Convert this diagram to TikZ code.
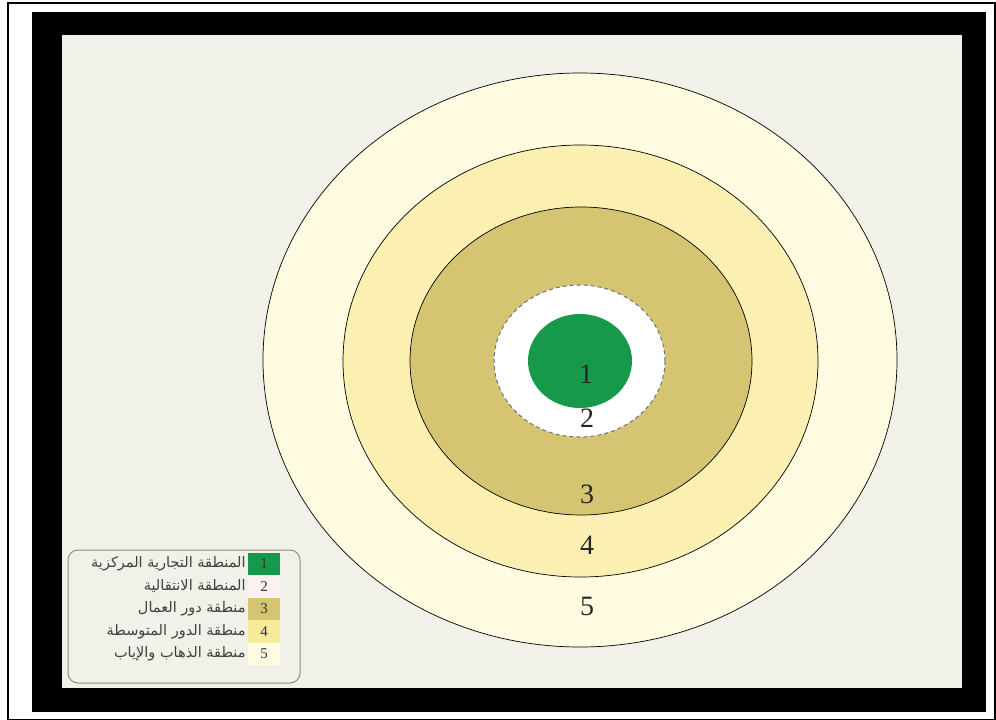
\documentclass[tikz,border=0pt]{standalone}
\usepackage{fontspec}
\setmainfont{Liberation Serif}
\newfontfamily\arabicfont[Script=Arabic]{DejaVu Sans}
\TeXXeTstate=1
\definecolor{bgpaper}{HTML}{F1F1E9}
\definecolor{zonefive}{HTML}{FEFBE0}
\definecolor{zonefour}{HTML}{FBF0B2}
\definecolor{zonethree}{HTML}{D5C572}
\definecolor{zonetwo}{HTML}{FFFFFF}
\definecolor{zoneone}{HTML}{16994A}
\definecolor{legendtwo}{HTML}{FBF1F1}
\definecolor{legendfour}{HTML}{F7EA98}
\tikzset{
  ring/.style={draw=black, line width=0.7pt},
  zonenum/.style={font=\fontsize{28}{30}\selectfont, text=black!85, inner sep=0pt},
  legtext/.style={font=\arabicfont\fontsize{14.5}{15}\selectfont, anchor=east, inner sep=0pt, text=black!75},
  legsq/.style={minimum width=32pt, minimum height=22.5pt, inner sep=0pt, font=\fontsize{15}{15}\selectfont, text=black!80},
}
\begin{document}
\begin{tikzpicture}[x=1pt,y=-1pt]
\useasboundingbox (0,0) rectangle (996,720);
\fill[white] (0,0) rectangle (996,720);
\draw[black, line width=1.5pt] (8,3) rectangle (995,719.5);
% thick frame
\fill[black] (32,12) rectangle (986,712);
\fill[bgpaper] (62,35) rectangle (962,688);
% rings
\filldraw[ring, fill=zonefive] (580,360) ellipse [x radius=317, y radius=287];
\filldraw[ring, fill=zonefour] (580.5,361) ellipse [x radius=237.5, y radius=216];
\filldraw[ring, fill=zonethree] (581,361) ellipse [x radius=171, y radius=154];
\filldraw[draw=black!55, line width=1pt, dash pattern=on 4pt off 3pt, fill=zonetwo] (579.5,361) ellipse [x radius=85.5, y radius=76];
\fill[zoneone] (580,361) ellipse [x radius=52, y radius=47];
% numbers
\node[zonenum] (n1) at (586,374) {1};
\node[zonenum] (n2) at (587,418) {2};
\node[zonenum] (n3) at (587,494) {3};
\node[zonenum] (n4) at (587,545) {4};
\node[zonenum] (n5) at (587,606) {5};
% legend
\draw[black!45, line width=1pt, rounded corners=10pt, fill=bgpaper] (68,550) rectangle (300,683);
\node[legsq, fill=zoneone] (s1) at (264,564) {1};
\node[legsq, fill=legendtwo] (s2) at (264,586.5) {2};
\node[legsq, fill=zonethree] (s3) at (264,609) {3};
\node[legsq, fill=legendfour] (s4) at (264,631.5) {4};
\node[legsq, fill=zonefive] (s5) at (264,654) {5};
\node[legtext] (t1) at ([xshift=-2pt]s1.west) {\beginR المنطقة التجارية المركزية\endR};
\node[legtext] (t2) at ([xshift=-2pt]s2.west) {\beginR المنطقة الانتقالية\endR};
\node[legtext] (t3) at ([xshift=-2pt]s3.west) {\beginR منطقة دور العمال\endR};
\node[legtext] (t4) at ([xshift=-2pt]s4.west) {\beginR منطقة الدور المتوسطة\endR};
\node[legtext] (t5) at ([xshift=-2pt]s5.west) {\beginR منطقة الذهاب والإياب\endR};
\end{tikzpicture}
\end{document}
